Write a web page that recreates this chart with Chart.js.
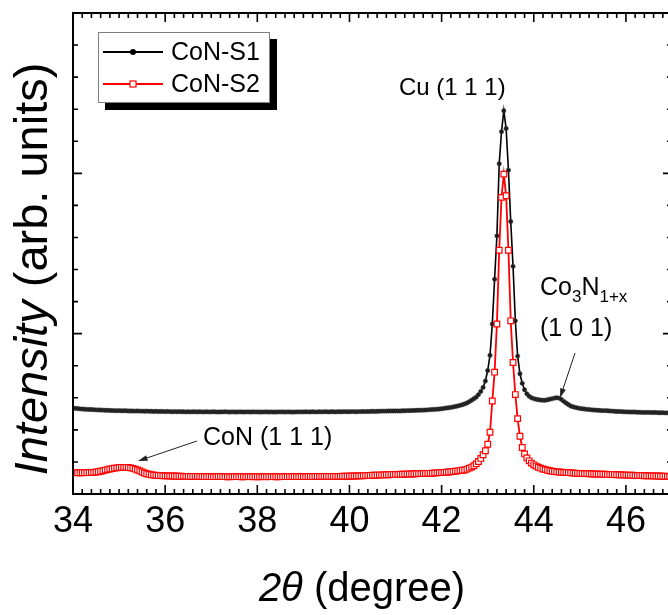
<!DOCTYPE html>
<html>
<head>
<meta charset="utf-8">
<script src="https://cdn.jsdelivr.net/npm/chart.js@4/dist/chart.umd.min.js"></script>
<style>
  html, body { margin: 0; padding: 0; overflow: hidden; background: #fff; }
  canvas { display: block; }
</style>
</head>
<body>
<canvas id="xrd" width="690" height="615"></canvas>
<script>
// 2theta (degree), one row per degree
const twoTheta = [
  34.00, 34.05, 34.10, 34.15, 34.20, 34.25, 34.30, 34.35, 34.40, 34.45, 34.50, 34.55, 34.60, 34.65, 34.70, 34.75, 34.80, 34.85, 34.90, 34.95,
  35.00, 35.05, 35.10, 35.15, 35.20, 35.25, 35.30, 35.35, 35.40, 35.45, 35.50, 35.55, 35.60, 35.65, 35.70, 35.75, 35.80, 35.85, 35.90, 35.95,
  36.00, 36.05, 36.10, 36.15, 36.20, 36.25, 36.30, 36.35, 36.40, 36.45, 36.50, 36.55, 36.60, 36.65, 36.70, 36.75, 36.80, 36.85, 36.90, 36.95,
  37.00, 37.05, 37.10, 37.15, 37.20, 37.25, 37.30, 37.35, 37.40, 37.45, 37.50, 37.55, 37.60, 37.65, 37.70, 37.75, 37.80, 37.85, 37.90, 37.95,
  38.00, 38.05, 38.10, 38.15, 38.20, 38.25, 38.30, 38.35, 38.40, 38.45, 38.50, 38.55, 38.60, 38.65, 38.70, 38.75, 38.80, 38.85, 38.90, 38.95,
  39.00, 39.05, 39.10, 39.15, 39.20, 39.25, 39.30, 39.35, 39.40, 39.45, 39.50, 39.55, 39.60, 39.65, 39.70, 39.75, 39.80, 39.85, 39.90, 39.95,
  40.00, 40.05, 40.10, 40.15, 40.20, 40.25, 40.30, 40.35, 40.40, 40.45, 40.50, 40.55, 40.60, 40.65, 40.70, 40.75, 40.80, 40.85, 40.90, 40.95,
  41.00, 41.05, 41.10, 41.15, 41.20, 41.25, 41.30, 41.35, 41.40, 41.45, 41.50, 41.55, 41.60, 41.65, 41.70, 41.75, 41.80, 41.85, 41.90, 41.95,
  42.00, 42.05, 42.10, 42.15, 42.20, 42.25, 42.30, 42.35, 42.40, 42.45, 42.50, 42.55, 42.60, 42.65, 42.70, 42.75, 42.80, 42.85, 42.90, 42.95,
  43.00, 43.05, 43.10, 43.15, 43.20, 43.25, 43.30, 43.35, 43.40, 43.45, 43.50, 43.55, 43.60, 43.65, 43.70, 43.75, 43.80, 43.85, 43.90, 43.95,
  44.00, 44.05, 44.10, 44.15, 44.20, 44.25, 44.30, 44.35, 44.40, 44.45, 44.50, 44.55, 44.60, 44.65, 44.70, 44.75, 44.80, 44.85, 44.90, 44.95,
  45.00, 45.05, 45.10, 45.15, 45.20, 45.25, 45.30, 45.35, 45.40, 45.45, 45.50, 45.55, 45.60, 45.65, 45.70, 45.75, 45.80, 45.85, 45.90, 45.95,
  46.00, 46.05, 46.10, 46.15, 46.20, 46.25, 46.30, 46.35, 46.40, 46.45, 46.50, 46.55, 46.60, 46.65, 46.70, 46.75, 46.80, 46.85, 46.90, 46.95,
  47.00
];

// CoN-S1 intensity (arb. units, offset)
const conS1 = [
  0.536, 0.534, 0.533, 0.531, 0.530, 0.529, 0.528, 0.527, 0.527, 0.526, 0.525, 0.524, 0.524, 0.523, 0.522, 0.522, 0.521, 0.521, 0.520, 0.520,
  0.520, 0.519, 0.519, 0.519, 0.518, 0.518, 0.518, 0.517, 0.518, 0.517, 0.517, 0.516, 0.517, 0.516, 0.516, 0.515, 0.516, 0.515, 0.515, 0.515,
  0.514, 0.515, 0.514, 0.513, 0.514, 0.513, 0.514, 0.513, 0.513, 0.512, 0.513, 0.512, 0.513, 0.513, 0.512, 0.513, 0.512, 0.512, 0.513, 0.512,
  0.512, 0.513, 0.512, 0.511, 0.512, 0.512, 0.513, 0.512, 0.511, 0.512, 0.512, 0.511, 0.512, 0.512, 0.511, 0.512, 0.512, 0.511, 0.512, 0.512,
  0.512, 0.511, 0.511, 0.512, 0.512, 0.511, 0.512, 0.511, 0.511, 0.512, 0.512, 0.512, 0.511, 0.512, 0.512, 0.511, 0.511, 0.512, 0.512, 0.512,
  0.512, 0.513, 0.512, 0.512, 0.513, 0.512, 0.512, 0.513, 0.512, 0.513, 0.513, 0.512, 0.513, 0.513, 0.512, 0.513, 0.513, 0.513, 0.514, 0.513,
  0.513, 0.514, 0.514, 0.513, 0.514, 0.514, 0.515, 0.514, 0.515, 0.515, 0.516, 0.515, 0.516, 0.516, 0.517, 0.517, 0.517, 0.518, 0.518, 0.518,
  0.518, 0.518, 0.518, 0.519, 0.519, 0.520, 0.520, 0.521, 0.521, 0.522, 0.522, 0.523, 0.523, 0.524, 0.525, 0.526, 0.527, 0.528, 0.529, 0.530,
  0.532, 0.534, 0.536, 0.538, 0.540, 0.543, 0.546, 0.549, 0.553, 0.557, 0.562, 0.568, 0.576, 0.585, 0.594, 0.604, 0.620, 0.640, 0.665, 0.705,
  0.770, 0.865, 1.060, 1.340, 1.610, 2.060, 2.260, 2.390, 2.280, 2.020, 1.700, 1.420, 1.080, 0.860, 0.750, 0.690, 0.650, 0.625, 0.610, 0.600,
  0.595, 0.591, 0.588, 0.586, 0.585, 0.585, 0.588, 0.591, 0.595, 0.598, 0.600, 0.598, 0.590, 0.578, 0.568, 0.558, 0.549, 0.544, 0.540, 0.537,
  0.534, 0.532, 0.530, 0.528, 0.527, 0.525, 0.524, 0.523, 0.522, 0.521, 0.520, 0.520, 0.519, 0.518, 0.517, 0.516, 0.515, 0.515, 0.514, 0.513,
  0.512, 0.512, 0.511, 0.511, 0.511, 0.510, 0.510, 0.509, 0.509, 0.509, 0.509, 0.508, 0.508, 0.508, 0.507, 0.507, 0.507, 0.506, 0.506, 0.506,
  0.505
];

// CoN-S2 intensity (arb. units, offset)
const conS2 = [
  0.133, 0.133, 0.132, 0.132, 0.132, 0.133, 0.133, 0.134, 0.134, 0.135, 0.137, 0.139, 0.142, 0.145, 0.149, 0.152, 0.156, 0.158, 0.161, 0.163,
  0.165, 0.166, 0.166, 0.166, 0.165, 0.163, 0.160, 0.155, 0.150, 0.144, 0.137, 0.131, 0.126, 0.123, 0.120, 0.118, 0.117, 0.116, 0.115, 0.114,
  0.113, 0.113, 0.112, 0.112, 0.112, 0.111, 0.111, 0.111, 0.110, 0.110, 0.110, 0.109, 0.109, 0.110, 0.110, 0.109, 0.109, 0.108, 0.108, 0.109,
  0.108, 0.108, 0.108, 0.109, 0.109, 0.108, 0.108, 0.107, 0.107, 0.108, 0.108, 0.108, 0.108, 0.107, 0.107, 0.108, 0.108, 0.108, 0.107, 0.108,
  0.107, 0.107, 0.108, 0.108, 0.107, 0.108, 0.108, 0.108, 0.107, 0.107, 0.108, 0.108, 0.108, 0.108, 0.109, 0.109, 0.108, 0.108, 0.108, 0.109,
  0.108, 0.108, 0.109, 0.109, 0.108, 0.109, 0.109, 0.109, 0.109, 0.110, 0.110, 0.110, 0.109, 0.110, 0.110, 0.110, 0.110, 0.111, 0.111, 0.111,
  0.111, 0.112, 0.112, 0.112, 0.113, 0.113, 0.114, 0.115, 0.116, 0.116, 0.117, 0.117, 0.118, 0.118, 0.119, 0.119, 0.120, 0.120, 0.121, 0.121,
  0.122, 0.122, 0.123, 0.123, 0.124, 0.124, 0.125, 0.125, 0.126, 0.126, 0.127, 0.127, 0.128, 0.128, 0.129, 0.129, 0.130, 0.131, 0.132, 0.133,
  0.134, 0.135, 0.136, 0.137, 0.139, 0.140, 0.142, 0.144, 0.146, 0.148, 0.150, 0.155, 0.161, 0.168, 0.176, 0.188, 0.203, 0.222, 0.245, 0.270,
  0.310, 0.385, 0.580, 0.760, 1.060, 1.520, 1.850, 1.995, 1.860, 1.520, 1.080, 0.820, 0.620, 0.470, 0.360, 0.290, 0.250, 0.225, 0.207, 0.193,
  0.182, 0.174, 0.167, 0.161, 0.156, 0.152, 0.148, 0.145, 0.142, 0.140, 0.138, 0.137, 0.136, 0.135, 0.134, 0.133, 0.132, 0.131, 0.130, 0.129,
  0.128, 0.128, 0.127, 0.127, 0.126, 0.126, 0.125, 0.125, 0.124, 0.124, 0.123, 0.123, 0.122, 0.122, 0.121, 0.121, 0.120, 0.120, 0.119, 0.119,
  0.118, 0.118, 0.117, 0.117, 0.116, 0.116, 0.115, 0.115, 0.114, 0.114, 0.113, 0.113, 0.113, 0.112, 0.112, 0.111, 0.111, 0.111, 0.110, 0.110,
  0.110
];

const xTickLabels = [34, 36, 38, 40, 42, 44, 46];
const seriesNames = ['CoN-S1', 'CoN-S2'];

const FONT = '"Liberation Sans", Arial, sans-serif';

function toPoints(ys) {
  return twoTheta.map((x, i) => ({ x: x, y: ys[i] }));
}

// text made of runs with different fonts: [text, font, dy]
function runsWidth(ctx, runs) {
  let w = 0;
  runs.forEach(r => { ctx.font = r[1]; w += ctx.measureText(r[0]).width; });
  return w;
}
function drawRuns(ctx, runs, x, y) {
  let cx = x;
  runs.forEach(r => {
    ctx.font = r[1];
    ctx.fillText(r[0], cx, y + (r[2] || 0));
    cx += ctx.measureText(r[0]).width;
  });
}
function arrow(ctx, x1, y1, x2, y2) {
  const ang = Math.atan2(y2 - y1, x2 - x1);
  ctx.beginPath();
  ctx.moveTo(x1, y1);
  ctx.lineTo(x2 - 6 * Math.cos(ang), y2 - 6 * Math.sin(ang));
  ctx.stroke();
  ctx.beginPath();
  ctx.moveTo(x2, y2);
  ctx.lineTo(x2 - 10 * Math.cos(ang - 0.3), y2 - 10 * Math.sin(ang - 0.3));
  ctx.lineTo(x2 - 10 * Math.cos(ang + 0.3), y2 - 10 * Math.sin(ang + 0.3));
  ctx.closePath();
  ctx.fill();
}

const decor = {
  id: 'decor',
  afterDraw(chart) {
    const ctx = chart.ctx;
    const a = chart.chartArea;
    const xs = chart.scales.x, ys = chart.scales.y;
    ctx.save();

    // frame
    ctx.strokeStyle = '#000';
    ctx.lineWidth = 2;
    ctx.strokeRect(a.left, a.top, a.right - a.left, a.bottom - a.top);

    // inward ticks
    ctx.lineWidth = 1.6;
    ctx.beginPath();
    for (let i = 0; i <= 65; i++) {
      const v = 34 + i * 0.2;
      const len = (i % 10 === 0) ? 9 : 5;
      const px = xs.getPixelForValue(v);
      ctx.moveTo(px, a.bottom); ctx.lineTo(px, a.bottom - len);
      ctx.moveTo(px, a.top); ctx.lineTo(px, a.top + len);
    }
    for (let i = 0; i <= 15; i++) {
      const v = i * 0.2;
      const len = (i % 5 === 0) ? 9 : 5;
      const py = ys.getPixelForValue(v);
      ctx.moveTo(a.left, py); ctx.lineTo(a.left + len, py);
      ctx.moveTo(a.right, py); ctx.lineTo(a.right - len, py);
    }
    ctx.stroke();

    ctx.fillStyle = '#000';
    ctx.textBaseline = 'alphabetic';
    ctx.textAlign = 'left';

    // x title
    const xt = [
      ['2\u03B8', 'italic 40px ' + FONT],
      [' (degree)', '40px ' + FONT]
    ];
    drawRuns(ctx, xt, 362 - runsWidth(ctx, xt) / 2, 601);

    // y title
    const yt = [
      ['Intensity', 'italic 47px ' + FONT],
      [' (arb. units)', '47px ' + FONT]
    ];
    ctx.save();
    ctx.translate(47, 269);
    ctx.rotate(-Math.PI / 2);
    drawRuns(ctx, yt, -runsWidth(ctx, yt) / 2, 0);
    ctx.restore();

    // peak labels
    drawRuns(ctx, [['Cu (1 1 1)', '24px ' + FONT]], 399, 95);
    drawRuns(ctx, [
      ['Co', '25px ' + FONT],
      ['3', '17px ' + FONT, 7],
      ['N', '25px ' + FONT],
      ['1+x', '17px ' + FONT, 7]
    ], 540, 295);
    drawRuns(ctx, [['(1 0 1)', '25px ' + FONT]], 540, 336);
    drawRuns(ctx, [['CoN (1 1 1)', '25px ' + FONT]], 203, 445);

    ctx.strokeStyle = '#222';
    ctx.fillStyle = '#222';
    ctx.lineWidth = 1;
    arrow(ctx, 575, 353, 560, 398);
    arrow(ctx, 197, 441, 138, 461);

    // legend with drop shadow
    ctx.fillStyle = '#000';
    ctx.fillRect(105, 39, 172, 71);
    ctx.fillStyle = '#fff';
    ctx.fillRect(98, 32, 172, 71);
    ctx.strokeStyle = '#808080';
    ctx.lineWidth = 1;
    ctx.strokeRect(98.5, 32.5, 171, 70);

    const ds = chart.data.datasets;
    [52, 84].forEach((ly, k) => {
      const d = ds[k];
      ctx.strokeStyle = d.borderColor;
      ctx.lineWidth = 2;
      ctx.beginPath(); ctx.moveTo(103, ly); ctx.lineTo(163, ly); ctx.stroke();
      if (k === 0) {
        ctx.fillStyle = '#000';
        ctx.beginPath(); ctx.arc(133, ly, 3, 0, Math.PI * 2); ctx.fill();
      } else {
        ctx.fillStyle = '#fff';
        ctx.fillRect(130, ly - 3, 6, 6);
        ctx.lineWidth = 1.2;
        ctx.strokeRect(130, ly - 3, 6, 6);
      }
      ctx.fillStyle = '#000';
      ctx.textBaseline = 'middle';
      ctx.font = '25px ' + FONT;
      ctx.fillText(d.label, 171, ly + 1);
    });

    ctx.restore();
  }
};

new Chart(document.getElementById('xrd'), {
  type: 'line',
  data: {
    datasets: [{
      label: seriesNames[0],
      data: toPoints(conS1),
      borderColor: '#000000',
      borderWidth: 1.6,
      pointStyle: 'circle',
      pointRadius: 2.2,
      pointBackgroundColor: '#1a1a1a',
      pointBorderColor: '#444444',
      pointBorderWidth: 0.5,
      order: 1
    }, {
      label: seriesNames[1],
      data: toPoints(conS2),
      borderColor: '#ff0000',
      borderWidth: 1.8,
      pointStyle: 'rect',
      pointRadius: 4,
      pointBackgroundColor: '#ffffff',
      pointBorderColor: '#ff0000',
      pointBorderWidth: 1.2,
      order: 0
    }]
  },
  options: {
    responsive: false,
    animation: false,
    events: [],
    layout: { padding: { top: 13, right: 18, left: 0, bottom: 0 } },
    plugins: { legend: { display: false }, tooltip: { enabled: false } },
    scales: {
      x: {
        type: 'linear',
        min: 34,
        max: 47,
        grid: { display: false, drawTicks: false },
        border: { display: false },
        afterBuildTicks: s => { s.ticks = xTickLabels.map(v => ({ value: v })); },
        afterFit: s => { s.height = 121; },
        ticks: {
          color: '#000',
          padding: 6,
          maxRotation: 0,
          font: { family: FONT, size: 36 }
        }
      },
      y: {
        min: 0,
        max: 3,
        grid: { display: false, drawTicks: false },
        border: { display: false },
        ticks: { display: false },
        afterFit: s => { s.width = 73; }
      }
    }
  },
  plugins: [decor]
});
</script>
</body>
</html>
